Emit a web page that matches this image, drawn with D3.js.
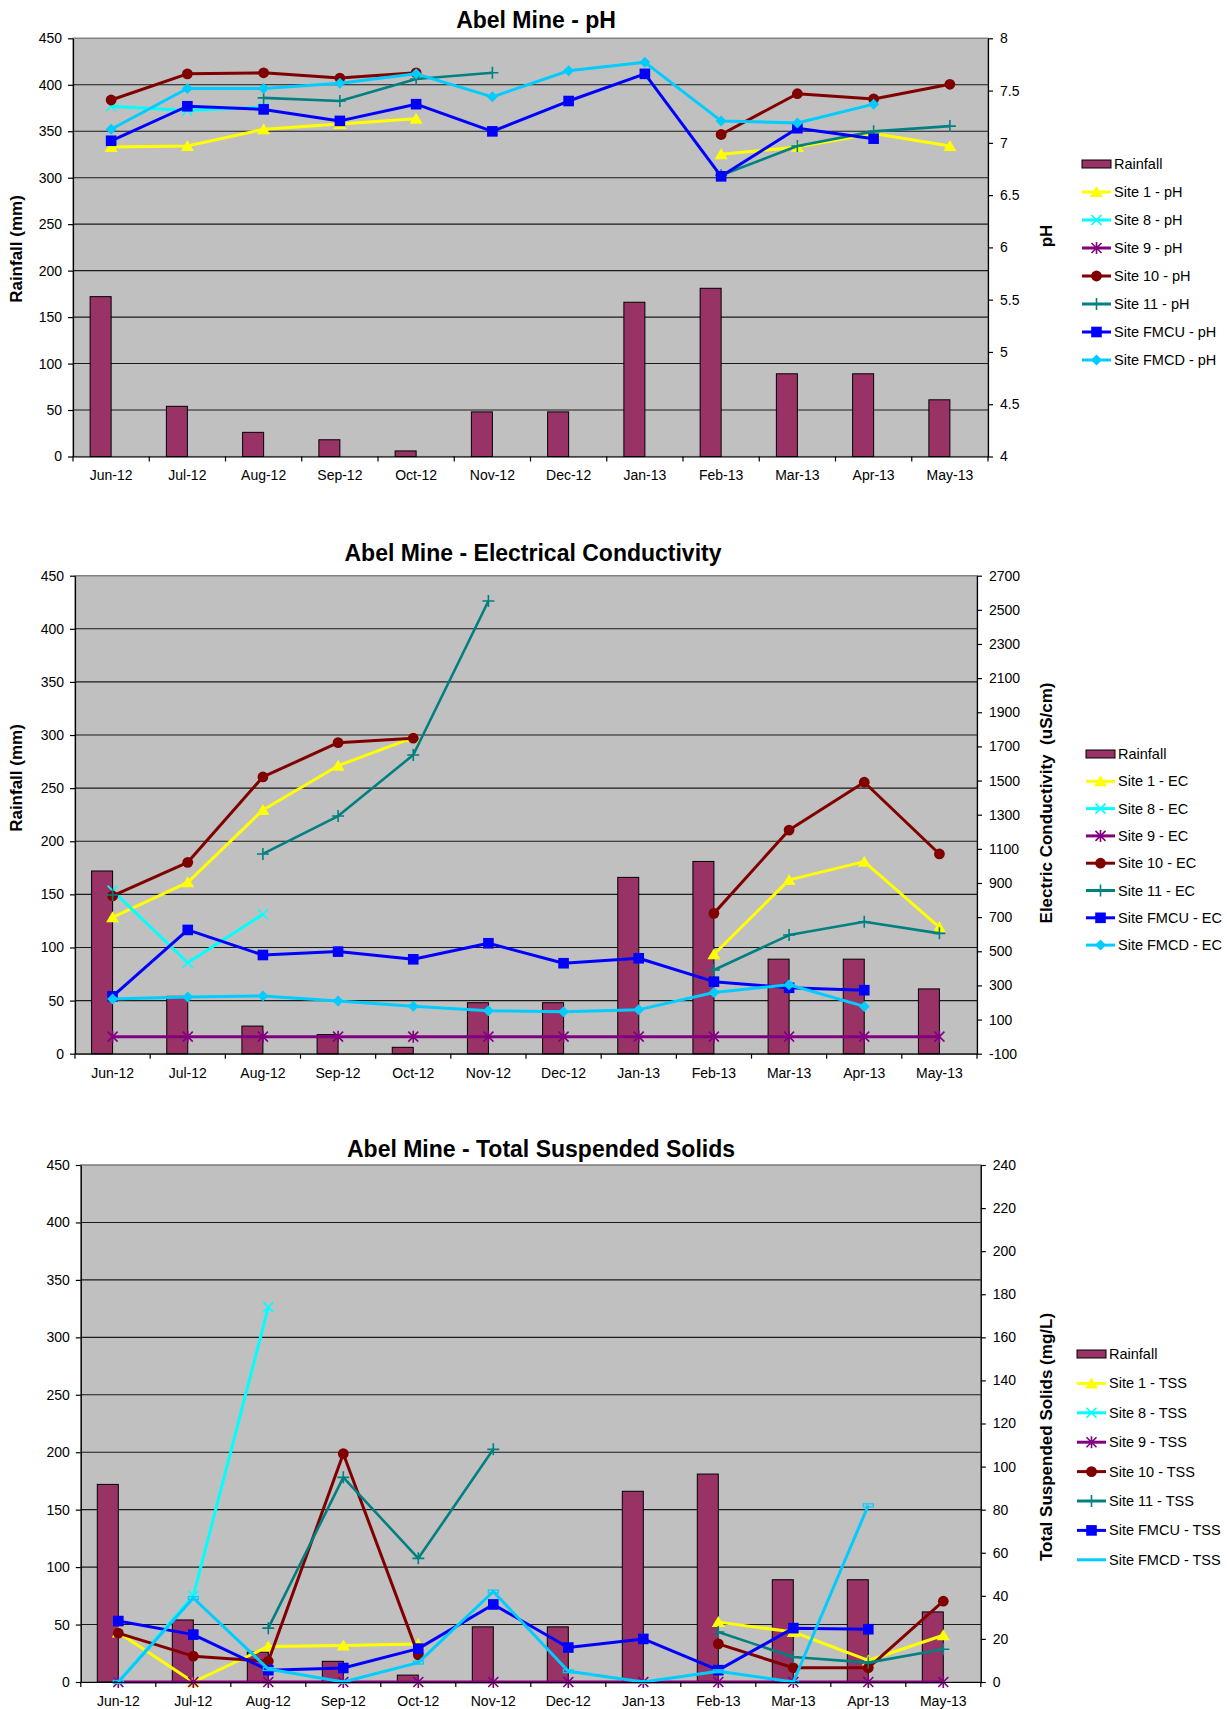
<!DOCTYPE html>
<html><head><meta charset="utf-8">
<script src="https://cdn.jsdelivr.net/npm/d3@7"></script>
<style>body{margin:0;background:#fff} svg text{font-family:"Liberation Sans",Arial,sans-serif}</style>
</head><body><svg id="c" width="1227" height="1709"></svg>
<script>
// ---------- DATA ----------
const months = ["Jun-12","Jul-12","Aug-12","Sep-12","Oct-12","Nov-12","Dec-12","Jan-13","Feb-13","Mar-13","Apr-13","May-13"];
const rainfall = [172,54,26,18,6,48,48,166,181,89,89,61];
const leftTicks = [0,50,100,150,200,250,300,350,400,450];
const phTicks = [4,4.5,5,5.5,6,6.5,7,7.5,8];
const ecTicks = [-100,100,300,500,700,900,1100,1300,1500,1700,1900,2100,2300,2500,2700];
const tssTicks = [0,20,40,60,80,100,120,140,160,180,200,220,240];
const siteNames = ["Site 1","Site 8","Site 9","Site 10","Site 11","Site FMCU","Site FMCD"];

const ph_site1  = [6.96,6.97,7.13,7.18,7.23,null,null,null,6.89,6.96,7.09,6.97];
const ph_site8  = [7.35,7.31,7.34,null,null,null,null,null,null,null,null,null];
const ph_site9  = [null,null,null,null,null,null,null,null,null,null,null,null];
const ph_site10 = [7.41,7.66,7.67,7.62,7.67,null,null,null,7.08,7.47,7.42,7.56];
const ph_site11 = [null,null,7.43,7.40,7.61,7.67,null,null,6.69,6.97,7.11,7.16];
const ph_fmcu   = [7.02,7.35,7.32,7.21,7.37,7.11,7.40,7.66,6.68,7.14,7.04,null];
const ph_fmcd   = [7.13,7.52,7.52,7.57,7.66,7.44,7.69,7.77,7.21,7.19,7.37,null];

const ec_site1  = [699,904,1328,1587,1752,null,null,null,482,918,1025,640];
const ec_site8  = [855,433,717,null,null,null,null,null,null,null,null,null];
const ec_site9  = [0,0,0,0,0,0,0,0,0,0,0,0];
const ec_site10 = [824,1021,1521,1722,1748,null,null,null,722,1210,1490,1070];
const ec_site11 = [830,null,1070,1292,1650,2552,null,null,390,595,673,605];
const ec_fmcu   = [236,625,478,498,453,547,430,459,322,286,272,null];
const ec_fmcd   = [220,232,238,208,178,152,146,158,258,304,177,null];

const tss_site1  = [23,0,16.5,17,17.6,null,null,null,27.8,23.2,10,21.7];
const tss_site8  = [0,40,174,null,null,null,null,null,null,null,null,null];
const tss_site9  = [0,0,0,0,0,0,0,0,0,0,0,0];
const tss_site10 = [22.7,12,9.6,106,12.6,null,null,null,17.7,6.6,6.6,37.5];
const tss_site11 = [null,null,25,95,57.4,108,null,null,23.2,11.6,9,15.2];
const tss_fmcu   = [28.3,22,5.5,6.5,15.5,36,16,20,5.5,25,24.5,null];
const tss_fmcd   = [0,39,6,0,9,42,5,0,5,0,82,null];

// ---------- STYLE ----------
const seriesStyle = [
  {color:"#FFFF00", marker:"triangle"},
  {color:"#00FFFF", marker:"x"},
  {color:"#800080", marker:"asterisk"},
  {color:"#800000", marker:"circle"},
  {color:"#008080", marker:"plus"},
  {color:"#0000FF", marker:"square"},
  {color:"#00CCFF", marker:"diamond"}
];

const svg = d3.select("#c");

function marker(g, type, color, cx, cy) {
  if (type === "triangle") {
    g.append("path").attr("d", `M${cx},${cy-6}L${cx+6.5},${cy+5}L${cx-6.5},${cy+5}Z`).attr("fill", color);
  } else if (type === "square") {
    g.append("rect").attr("x", cx-5.3).attr("y", cy-5.3).attr("width", 10.6).attr("height", 10.6).attr("fill", color);
  } else if (type === "circle") {
    g.append("circle").attr("cx", cx).attr("cy", cy).attr("r", 5.4).attr("fill", color);
  } else if (type === "diamond") {
    g.append("path").attr("d", `M${cx},${cy-5.5}L${cx+5.5},${cy}L${cx},${cy+5.5}L${cx-5.5},${cy}Z`).attr("fill", color);
  } else if (type === "x") {
    g.append("path").attr("d", `M${cx-5},${cy-5}L${cx+5},${cy+5}M${cx+5},${cy-5}L${cx-5},${cy+5}`).attr("stroke", color).attr("stroke-width", 1.6).attr("fill","none");
  } else if (type === "asterisk") {
    g.append("path").attr("d", `M${cx-5},${cy-5}L${cx+5},${cy+5}M${cx+5},${cy-5}L${cx-5},${cy+5}M${cx},${cy-6}L${cx},${cy+6}`).attr("stroke", color).attr("stroke-width", 1.6).attr("fill","none");
  } else if (type === "plus") {
    g.append("path").attr("d", `M${cx-6},${cy}L${cx+6},${cy}M${cx},${cy-6}L${cx},${cy+6}`).attr("stroke", color).attr("stroke-width", 1.6).attr("fill","none");
  } else if (type === "dash") {
    g.append("rect").attr("x", cx-5).attr("y", cy-1.5).attr("width", 10).attr("height", 3).attr("stroke", color).attr("stroke-width", 1.2).attr("fill","none");
  }
}

function drawChart(cfg) {
  const g = svg.append("g");
  const x = d3.scaleBand().domain(months).range([cfg.left, cfg.right]);
  const bw = x.bandwidth();
  const cxOf = i => x(months[i]) + bw/2;
  const yL = d3.scaleLinear().domain([0,450]).range([cfg.bottom, cfg.top]);
  const yR = d3.scaleLinear().domain([cfg.rTicks[0], cfg.rTicks[cfg.rTicks.length-1]]).range([cfg.bottom, cfg.top]);

  // plot area
  g.append("rect").attr("x", cfg.left).attr("y", cfg.top)
    .attr("width", cfg.right-cfg.left).attr("height", cfg.bottom-cfg.top)
    .attr("fill", "#C0C0C0").attr("stroke", "#808080").attr("stroke-width", 1.2);
  // gridlines
  g.selectAll(".grid").data(leftTicks.filter(d => d > 0)).join("line")
    .attr("x1", cfg.left).attr("x2", cfg.right)
    .attr("y1", d => yL(d)).attr("y2", d => yL(d))
    .attr("stroke", d => d === 450 ? "#808080" : "#1a1a1a").attr("stroke-width", 1.1);
  // bars
  g.selectAll(".bar").data(rainfall).join("rect")
    .attr("x", (d,i) => cxOf(i) - 21).attr("width", 21)
    .attr("y", d => yL(d)).attr("height", d => cfg.bottom - yL(d))
    .attr("fill", "#993366").attr("stroke", "#000").attr("stroke-width", 1);

  // series
  cfg.series.forEach((vals, s) => {
    const st = seriesStyle[s];
    const mk = (cfg.markerOverride && cfg.markerOverride[s]) || st.marker;
    const pts = vals.map((v,i) => ({i, v}));
    const line = d3.line().defined(d => d.v != null).x(d => cxOf(d.i)).y(d => yR(d.v));
    g.append("path").datum(pts).attr("d", line)
      .attr("fill", "none").attr("stroke", st.color)
      .attr("stroke-width", s === 4 ? 2.6 : 3).attr("stroke-linejoin", "round");
    const mg = g.append("g");
    pts.filter(d => d.v != null).forEach(d => marker(mg, mk, st.color, cxOf(d.i), yR(d.v)));
  });

  // axes
  const fam = '"Liberation Sans",Arial,sans-serif';
  const aL = g.append("g").attr("transform", `translate(${cfg.left},0)`)
    .call(d3.axisLeft(yL).tickValues(leftTicks).tickSize(5).tickPadding(6).tickSizeOuter(0).tickFormat(d => String(d)));
  const aR = g.append("g").attr("transform", `translate(${cfg.right},0)`)
    .call(d3.axisRight(yR).tickValues(cfg.rTicks).tickSize(5).tickPadding(7).tickSizeOuter(0).tickFormat(d => String(d)));
  const aB = g.append("g").attr("transform", `translate(0,${cfg.bottom})`)
    .call(d3.axisBottom(x).tickSize(0).tickPadding(14).tickSizeOuter(0));
  [aL, aR, aB].forEach(a => {
    a.attr("font-size", 14).attr("font-family", fam);
    a.selectAll("path,line").attr("stroke", "#000").attr("stroke-width", 1.2);
    a.selectAll("text").attr("fill", "#000");
  });
  // category boundary ticks
  g.selectAll(".ct").data(d3.range(months.length + 1)).join("line")
    .attr("x1", i => cfg.left + i*x.step()).attr("x2", i => cfg.left + i*x.step())
    .attr("y1", cfg.bottom).attr("y2", cfg.bottom + 5).attr("stroke", "#000").attr("stroke-width", 1.2);

  // titles
  g.append("text").attr("x", cfg.titleX).attr("y", cfg.titleY).attr("text-anchor", "middle")
    .attr("font-size", 23).attr("font-weight", "bold").text(cfg.title);
  if (cfg.leftTitle) {
    g.append("text").attr("transform", `translate(${cfg.leftTitle[0]},${cfg.leftTitle[1]}) rotate(-90)`)
      .attr("text-anchor", "middle").attr("dy", "0.35em").attr("font-size", 17).attr("font-weight", "bold")
      .text("Rainfall (mm)");
  }
  g.append("text").attr("transform", `translate(${cfg.rightTitle[0]},${cfg.rightTitle[1]}) rotate(-90)`)
    .attr("text-anchor", "middle").attr("dy", "0.35em").attr("font-size", 17).attr("font-weight", "bold")
    .attr("xml:space", "preserve").style("white-space", "pre")
    .text(cfg.rightTitleText);

  // legend
  const lg = g.append("g");
  const lx = cfg.legend[0], ly = cfg.legend[1], step = cfg.legend[2];
  lg.append("rect").attr("x", lx).attr("y", ly - 4).attr("width", 29).attr("height", 8)
    .attr("fill", "#993366").attr("stroke", "#000").attr("stroke-width", 1);
  lg.append("text").attr("x", lx + 32).attr("y", ly).attr("dy", "0.35em").attr("font-size", 14.5).text("Rainfall");
  siteNames.forEach((n, s) => {
    const y = ly + (s + 1) * step;
    const st = seriesStyle[s];
    const mk = (cfg.markerOverride && cfg.markerOverride[s]) || st.marker;
    lg.append("line").attr("x1", lx).attr("x2", lx + 29).attr("y1", y).attr("y2", y)
      .attr("stroke", st.color).attr("stroke-width", 3);
    if (mk !== "dash") marker(lg, mk, st.color, lx + 14.5, y);
    lg.append("text").attr("x", lx + 32).attr("y", y).attr("dy", "0.35em").attr("font-size", 14.5)
      .text(n + " - " + cfg.suffix);
  });
}

drawChart({
  left: 73, right: 988, top: 38.3, bottom: 456.5,
  rTicks: phTicks,
  series: [ph_site1, ph_site8, ph_site9, ph_site10, ph_site11, ph_fmcu, ph_fmcd],
  title: "Abel Mine - pH", titleX: 536, titleY: 28,
  leftTitle: [16, 249], rightTitle: [1046, 236], rightTitleText: "pH",
  legend: [1082, 164, 28], suffix: "pH"
});
drawChart({
  left: 75, right: 977, top: 575.7, bottom: 1053.7,
  rTicks: ecTicks,
  series: [ec_site1, ec_site8, ec_site9, ec_site10, ec_site11, ec_fmcu, ec_fmcd],
  title: "Abel Mine - Electrical Conductivity", titleX: 533, titleY: 561,
  leftTitle: [16, 778], rightTitle: [1046, 803], rightTitleText: "Electric Conductivity  (uS/cm)",
  legend: [1086, 754, 27.3], suffix: "EC"
});
drawChart({
  left: 80.8, right: 980.8, top: 1165, bottom: 1682,
  rTicks: tssTicks,
  series: [tss_site1, tss_site8, tss_site9, tss_site10, tss_site11, tss_fmcu, tss_fmcd],
  markerOverride: {6: "dash"},
  title: "Abel Mine - Total Suspended Solids", titleX: 541, titleY: 1157,
  leftTitle: null, rightTitle: [1046, 1437], rightTitleText: "Total Suspended Solids (mg/L)",
  legend: [1077, 1354, 29.4], suffix: "TSS"
});
</script>
</body></html>
